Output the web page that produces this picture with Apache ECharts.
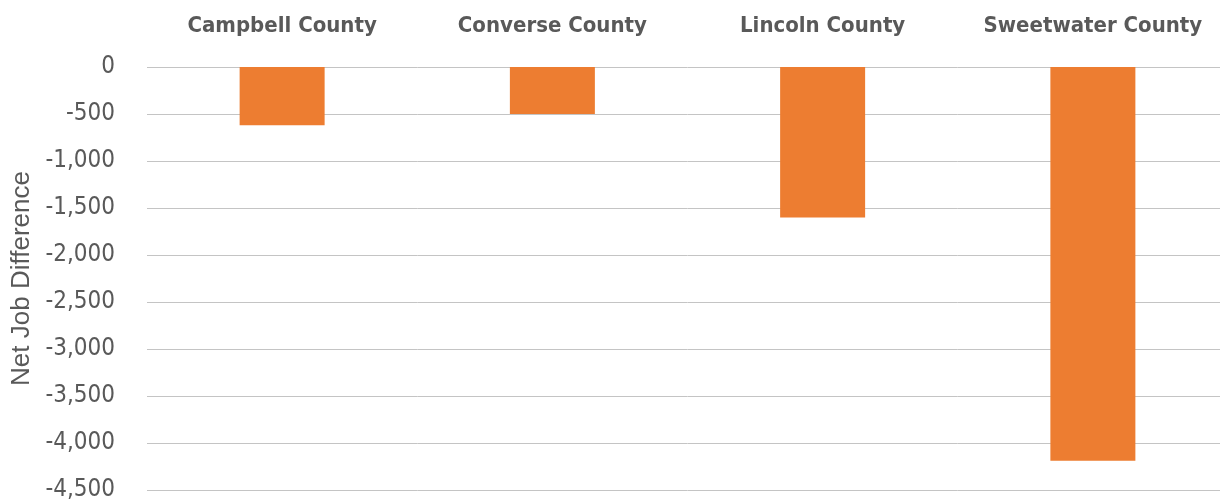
<!DOCTYPE html>
<html>
<head>
<meta charset="utf-8">
<title>Net Job Difference by County</title>
<script src="https://cdn.jsdelivr.net/npm/echarts@6/dist/echarts.min.js"></script>
<style>
  html, body { margin: 0; padding: 0; background: #ffffff; overflow: hidden; }
  #wrap { width: 1220px; height: 502px; overflow: hidden; }
  /* the plot runs a few pixels past the right edge of the view */
  #chart { width: 1228px; height: 502px; }
</style>
</head>
<body>
<div id="wrap"><div id="chart"></div></div>
<script>
// Counties and their net job difference
const counties = ['Campbell County', 'Converse County', 'Lincoln County', 'Sweetwater County'];
const netJobs = [-620, -500, -1600, -4190];

// Value axis range
const axisMin = -4500;
const axisMax = 0;
const axisStep = 500;

const narrow = "'DejaVu Sans Condensed', 'Liberation Sans Narrow', sans-serif";
const textGray = '#595959';

const chart = echarts.init(document.getElementById('chart'), null, { renderer: 'canvas' });

chart.setOption({
  animation: false,
  backgroundColor: '#ffffff',
  grid: { left: 147, right: 0, top: 67, bottom: 12, containLabel: false },
  xAxis: {
    type: 'category',
    data: counties,
    position: 'top',
    axisLine: { show: false },
    axisTick: { show: false },
    axisLabel: {
      interval: 0,
      color: textGray,
      fontFamily: narrow,
      fontWeight: 'bold',
      fontSize: 22,
      margin: 30
    }
  },
  yAxis: {
    type: 'value',
    min: axisMin,
    max: axisMax,
    interval: axisStep,
    name: 'Net Job Difference',
    nameLocation: 'middle',
    nameGap: 110,
    nameRotate: 90,
    nameTextStyle: {
      color: textGray,
      fontFamily: "'Liberation Sans', sans-serif",
      fontSize: 26
    },
    axisLine: { show: false },
    axisTick: { show: false },
    axisLabel: {
      color: textGray,
      fontFamily: narrow,
      fontSize: 24,
      margin: 32,
      formatter: v => v.toLocaleString('en-US')
    },
    splitLine: { lineStyle: { color: '#c4c4c4', width: 1 } }
  },
  series: [{
    type: 'bar',
    data: netJobs,
    barWidth: 85,
    itemStyle: { color: '#ED7D31' }
  }]
});
</script>
</body>
</html>
